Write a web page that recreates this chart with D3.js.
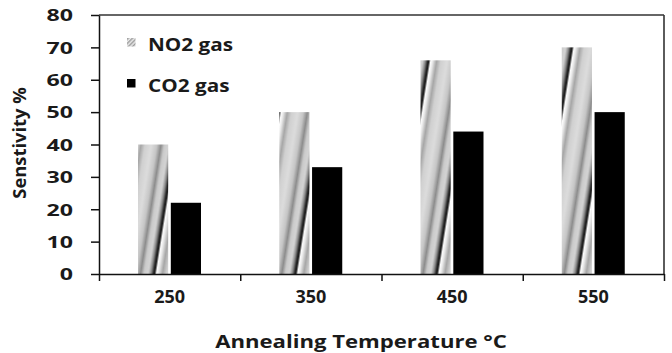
<!DOCTYPE html>
<html>
<head>
<meta charset="utf-8">
<script src="https://cdn.jsdelivr.net/npm/d3@7"></script>
<style>
  html, body { margin: 0; padding: 0; background: #fff; }
  svg { display: block; }
  text { font-family: "Open Sans", sans-serif; font-weight: bold; fill: #1a1a1a; }
</style>
</head>
<body>
<svg id="chart" width="672" height="353"></svg>
<script>
// ---- data ----
const categories = ["250", "350", "450", "550"];
const seriesNames = ["NO2 gas", "CO2 gas"];
const no2Values = [40, 50, 66, 70];
const co2Values = [22, 33, 44, 50];
const yTicks = [0, 10, 20, 30, 40, 50, 60, 70, 80];
const xTitle = "Annealing Temperature °C";
const yTitle = "Senstivity %";

// ---- layout ----
const plot = { left: 99, right: 664, top: 15, bottom: 274 };
const svg = d3.select("#chart");

const x = d3.scaleBand().domain(categories).range([plot.left, plot.right]).padding(0);
const xInner = d3.scaleBand().domain(seriesNames).range([39, 102]).paddingInner(0.08);
const y = d3.scaleLinear().domain([0, 80]).range([plot.bottom, plot.top]);
const xEdges = d3.scaleLinear().domain([0, categories.length]).range([plot.left, plot.right]);

const rows = categories.map((c, i) => ({ cat: c, values: [
  { name: seriesNames[0], v: no2Values[i] },
  { name: seriesNames[1], v: co2Values[i] }
]}));

const defs = svg.append("defs");
// gradient profile for the NO2 stripe fill
const grad = defs.append("linearGradient").attr("id", "stripeGrad")
  .attr("x1", "0").attr("x2", "1").attr("y1", "0").attr("y2", "0");
[[0, "#151515"], [0.025, "#2a2a2a"], [0.05, "#ffffff"], [0.1, "#ececec"], [0.2, "#a6a6a6"],
 [0.3, "#d0d0d0"], [0.45, "#dcdcdc"], [0.58, "#c6c6c6"], [0.68, "#8c8c8c"], [0.76, "#cacaca"],
 [0.86, "#d4d4d4"], [0.93, "#8a8a8a"], [0.98, "#303030"], [1, "#151515"]]
  .forEach(s => grad.append("stop").attr("offset", s[0]).attr("stop-color", s[1]));

const P = 42;
rows.forEach((r, i) => {
  const bx = x(r.cat) + xInner(seriesNames[0]);
  const pat = defs.append("pattern").attr("id", "no2pat" + i)
    .attr("patternUnits", "userSpaceOnUse")
    .attr("width", P).attr("height", 400)
    .attr("patternTransform", `translate(${bx + 16},${plot.bottom}) skewX(-9)`);
  pat.append("rect").attr("x", 0).attr("y", -200).attr("width", P).attr("height", 800)
    .attr("fill", "url(#stripeGrad)");
});

// legend hatch
const lp = defs.append("pattern").attr("id", "legendHatch")
  .attr("patternUnits", "userSpaceOnUse").attr("width", 3).attr("height", 3)
  .attr("patternTransform", "rotate(45)");
lp.append("rect").attr("width", 3).attr("height", 3).attr("fill", "#e8e8e8");
lp.append("rect").attr("width", 1.4).attr("height", 3).attr("fill", "#9a9a9a");

// ---- bars ----
const g = svg.append("g");
g.selectAll("g.cat").data(rows).join("g").attr("class", "cat")
  .each(function(r, i) {
    d3.select(this).selectAll("rect").data(r.values).join("rect")
      .attr("x", d => x(r.cat) + xInner(d.name))
      .attr("width", xInner.bandwidth())
      .attr("y", d => y(d.v))
      .attr("height", d => y(0) - y(d.v))
      .attr("fill", d => d.name === seriesNames[0] ? `url(#no2pat${i})` : "#000");
  });

// ---- frame: top & right ----
svg.append("line").attr("x1", plot.left).attr("x2", plot.right)
  .attr("y1", y(80)).attr("y2", y(80)).attr("stroke", "#333").attr("stroke-width", 1.6);
svg.append("line").attr("x1", plot.right).attr("x2", plot.right)
  .attr("y1", y(80)).attr("y2", y(0)).attr("stroke", "#333").attr("stroke-width", 1.6);

// ---- y axis ----
const yAxis = svg.append("g").attr("transform", `translate(${plot.left},0)`)
  .call(d3.axisLeft(y).tickValues(yTicks).tickSize(8).tickSizeOuter(0).tickPadding(0));
yAxis.selectAll("path, line").attr("stroke", "#111").attr("stroke-width", 1.5);
yAxis.selectAll("text")
  .attr("x", 0).attr("dy", "0.36em")
  .attr("transform", "translate(-26,0) scale(1.45,1)")
  .style("font-size", "16px").style("font-family", "'Open Sans', sans-serif")
  .style("font-weight", "bold").attr("fill", "#1a1a1a");

// ---- x axis (edge ticks) ----
const xAxisEdges = svg.append("g").attr("transform", `translate(0,${plot.bottom})`)
  .call(d3.axisBottom(xEdges).ticks(categories.length).tickSize(7).tickSizeOuter(0).tickFormat(""));
xAxisEdges.selectAll("path, line").attr("stroke", "#111").attr("stroke-width", 1.5);

// x labels
const xAxisLabels = svg.append("g").attr("transform", `translate(0,${plot.bottom})`)
  .call(d3.axisBottom(x).tickSize(0).tickPadding(16));
xAxisLabels.select("path").remove();
xAxisLabels.selectAll("text")
  .style("font-size", "18px").style("font-family", "'Open Sans', sans-serif")
  .style("font-weight", "bold").attr("fill", "#1a1a1a");

// ---- axis titles ----
svg.append("text").attr("transform", "translate(361,348) scale(1.23,1)").attr("text-anchor", "middle")
  .style("font-size", "18px").text(xTitle);
svg.append("text").attr("transform", "translate(26,143) rotate(-90) scale(1.08,1)")
  .attr("text-anchor", "middle").style("font-size", "17px").text(yTitle);

// ---- legend ----
const legend = svg.append("g");
const legTextY = [45, 86];
seriesNames.forEach((n, i) => {
  legend.append("rect").attr("x", 127).attr("y", legTextY[i] - 7).attr("width", 8.5).attr("height", 8.5)
    .attr("fill", i === 0 ? "url(#legendHatch)" : "#000");
  legend.append("text").attr("transform", `translate(148,${legTextY[i]}) scale(1.22,1)`)
    .attr("dy", "0.36em").style("font-size", "17px").text(n);
});
</script>
</body>
</html>
